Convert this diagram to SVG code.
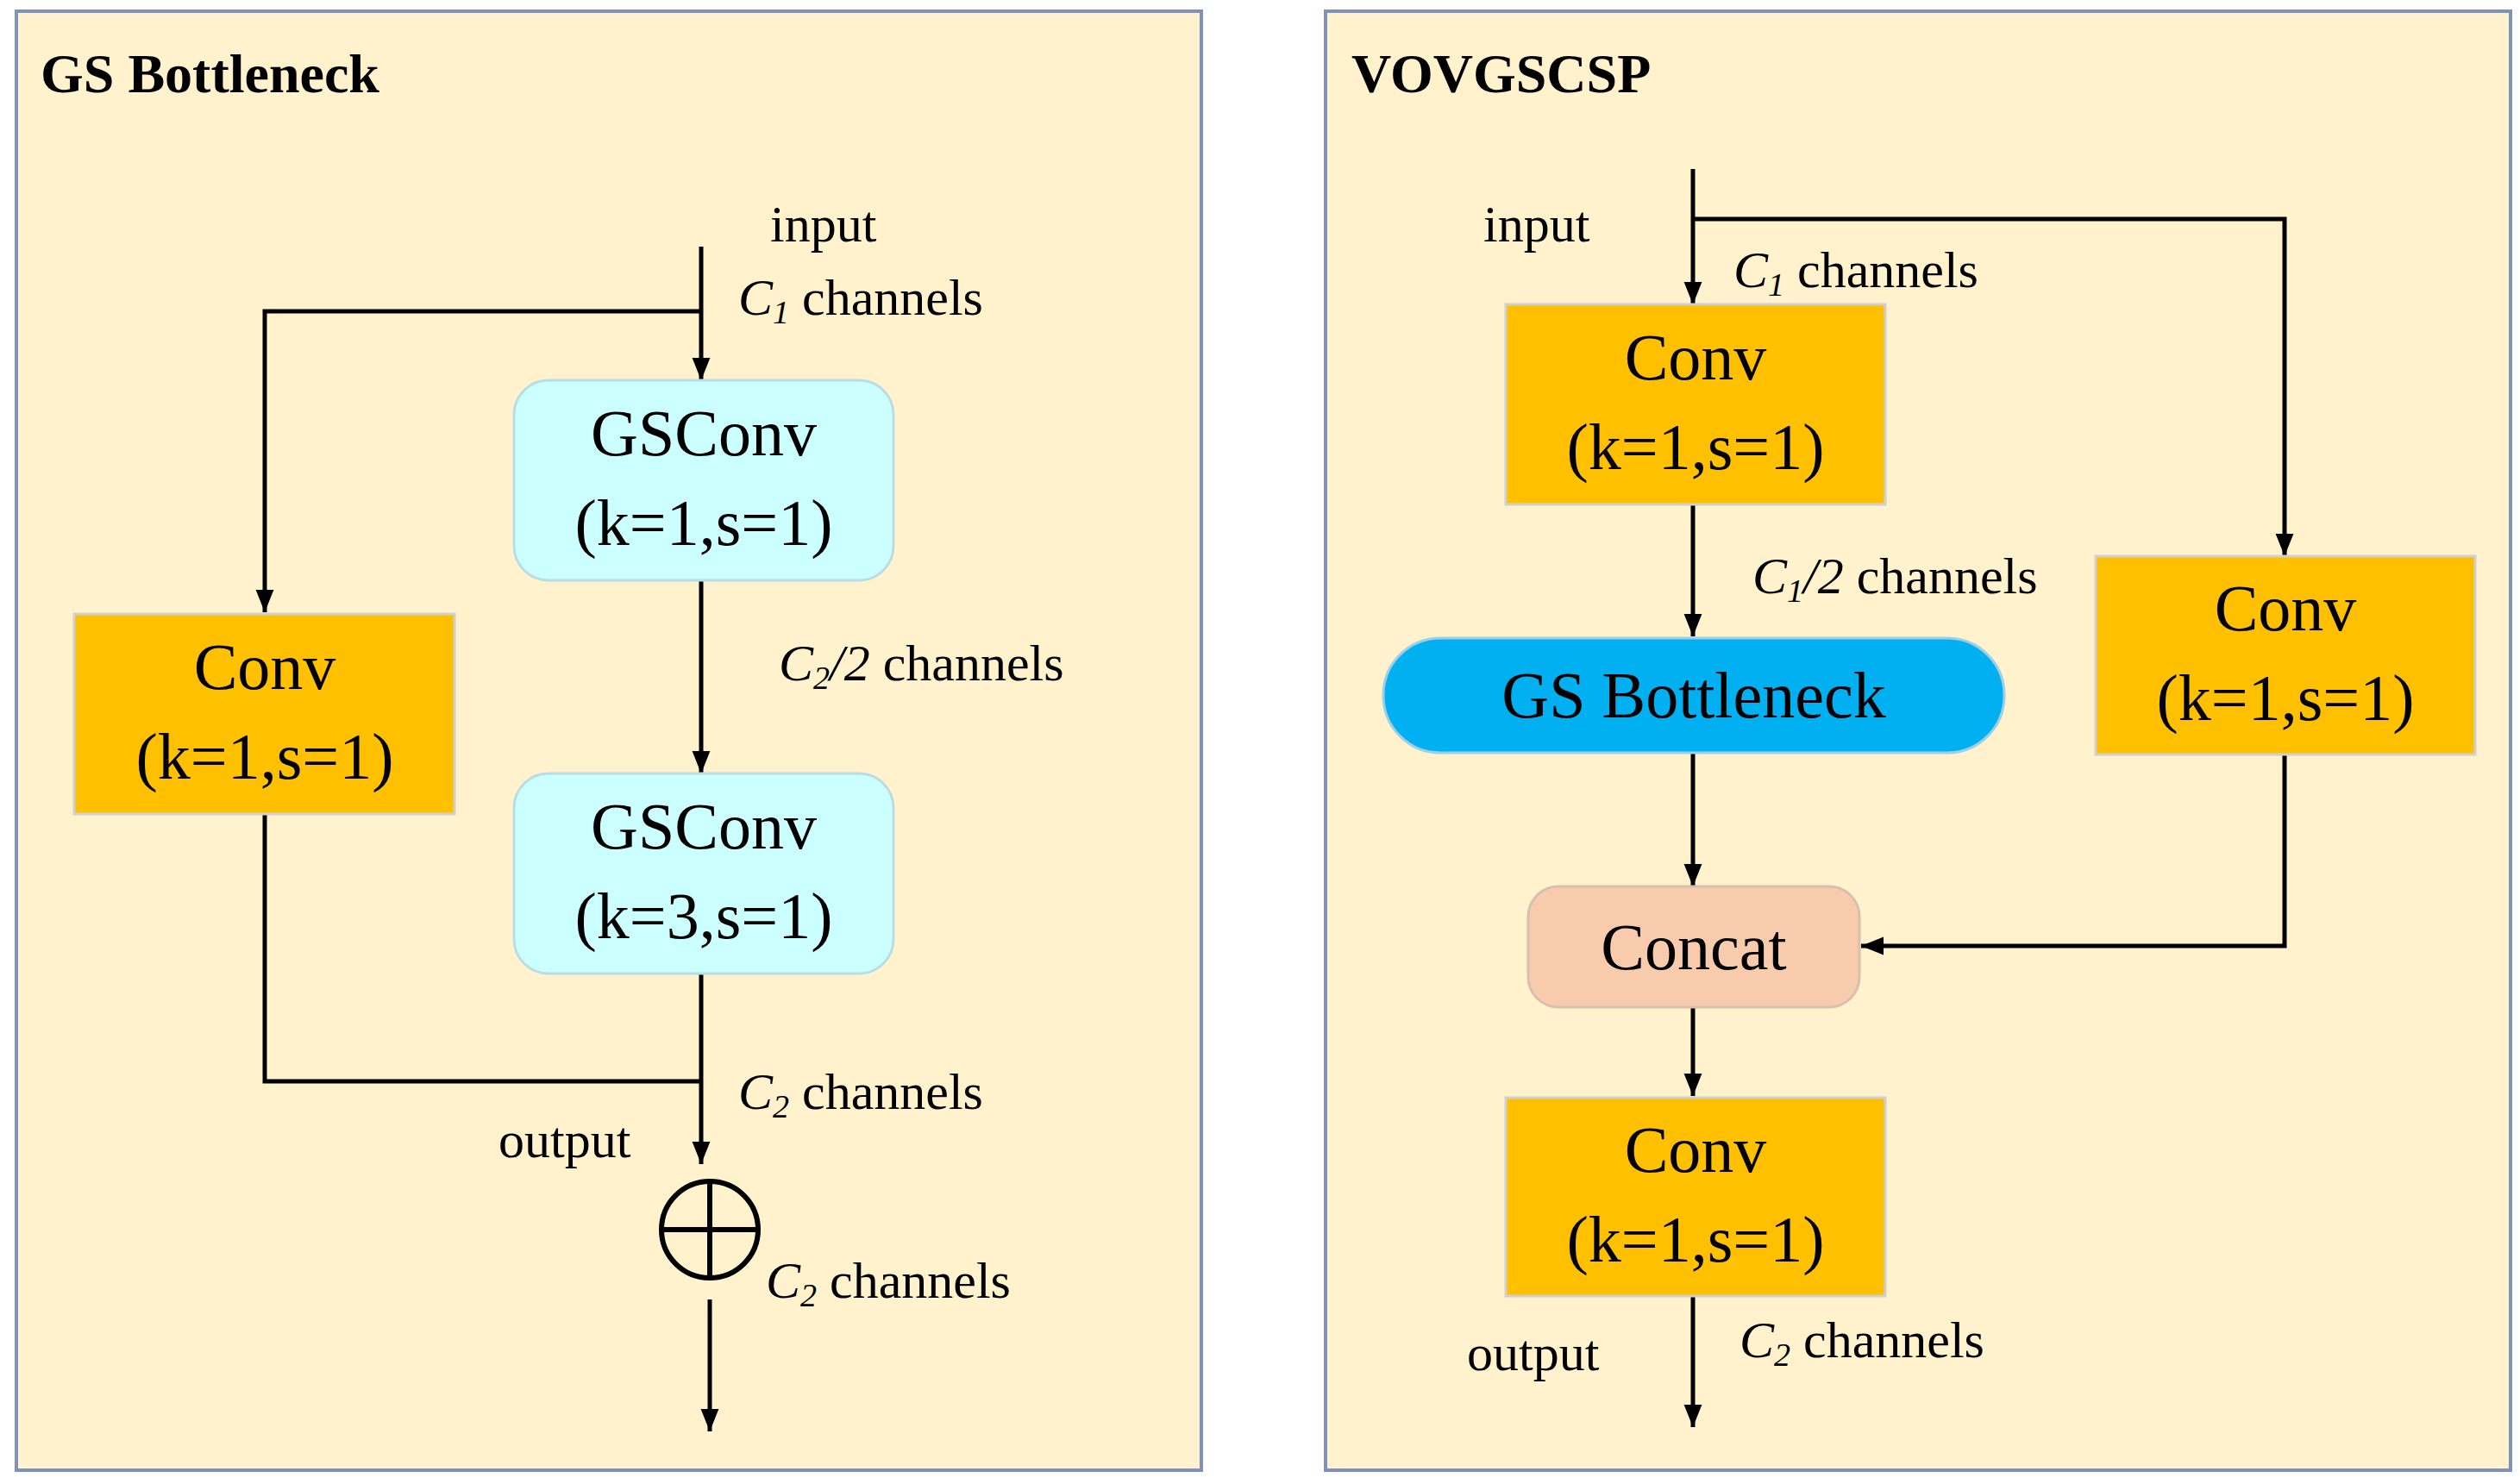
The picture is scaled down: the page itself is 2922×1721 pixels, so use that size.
<svg xmlns="http://www.w3.org/2000/svg" width="2922" height="1721" viewBox="0 0 2922 1721">
<defs>
<marker id="ah" viewBox="0 0 10 10" refX="9" refY="5" markerWidth="7" markerHeight="7" markerUnits="userSpaceOnUse" orient="auto"><path d="M0,0 L10,5 L0,10 z" fill="#000"/></marker>
<marker id="a" viewBox="0 0 10 10" refX="10" refY="5" markerWidth="26" markerHeight="26" markerUnits="userSpaceOnUse" orient="auto"><path d="M0,1 L10,5 L0,9 z" fill="#000"/></marker>
</defs>
<style>
.panel{fill:#FFF2CC;stroke:#7F92BE;stroke-width:4}
.title{font-family:"Liberation Serif",serif;font-weight:bold;font-size:64px;fill:#000}
.t{font-family:"Liberation Serif",serif;font-size:60px;fill:#000}
.b{font-family:"Liberation Serif",serif;font-size:76px;fill:#000;text-anchor:middle}
.conv{fill:#FFC000;stroke:#D0D0D0;stroke-width:3}
.gs{fill:#CCFFFF;stroke:#B8DDE6;stroke-width:3}
.pill{fill:#00B0F0;stroke:#9CCFE8;stroke-width:3}
.cat{fill:#F8CBAD;stroke:#D8C0B0;stroke-width:3}
.l{fill:none;stroke:#000;stroke-width:5}
</style>
<rect class="panel" x="19" y="13" width="1374" height="1692"/>
<rect class="panel" x="1537" y="13" width="1374" height="1692"/>
<text class="title" x="47" y="107">GS Bottleneck</text>
<text class="title" x="1567" y="107">VOVGSCSP</text>

<g id="connectors">
<path class="l" d="M813,286 V441" marker-end="url(#a)"/>
<path class="l" d="M813,361 H307 V710" marker-end="url(#a)"/>
<path class="l" d="M813,673 V897" marker-end="url(#a)"/>
<path class="l" d="M307,944 V1254 H813"/>
<path class="l" d="M813,1129 V1350" marker-end="url(#a)"/>
<path class="l" d="M823,1507 V1660" marker-end="url(#a)"/>
<path class="l" d="M1963,196 V353" marker-end="url(#a)"/>
<path class="l" d="M1963,254 H2649 V645" marker-end="url(#a)"/>
<path class="l" d="M1963,585 V738" marker-end="url(#a)"/>
<path class="l" d="M1963,873 V1028" marker-end="url(#a)"/>
<path class="l" d="M2649,875 V1097 H2158" marker-end="url(#a)"/>
<path class="l" d="M1963,1168 V1271" marker-end="url(#a)"/>
<path class="l" d="M1963,1503 V1655" marker-end="url(#a)"/>
</g>

<g id="gsconv1"><rect class="gs" x="596" y="441" width="440" height="232" rx="40"/><text class="b" x="816" y="528">GSConv</text><text class="b" x="816" y="632">(k=1,s=1)</text></g>
<g id="gsconv2"><rect class="gs" x="596" y="897" width="440" height="232" rx="40"/><text class="b" x="816" y="984">GSConv</text><text class="b" x="816" y="1088">(k=3,s=1)</text></g>
<g id="convL"><rect class="conv" x="86" y="712" width="441" height="232"/><text class="b" x="307" y="799">Conv</text><text class="b" x="307" y="903">(k=1,s=1)</text></g>
<g id="add"><circle cx="823" cy="1426" r="56" fill="none" stroke="#000" stroke-width="6"/><path d="M767,1426 H879 M823,1370 V1482" stroke="#000" stroke-width="6"/></g>

<g id="conv1"><rect class="conv" x="1746" y="353" width="440" height="232"/><text class="b" x="1966" y="440">Conv</text><text class="b" x="1966" y="544">(k=1,s=1)</text></g>
<g id="gsb"><rect class="pill" x="1604" y="740" width="720" height="133" rx="66"/><text class="b" x="1964" y="832">GS Bottleneck</text></g>
<g id="convR"><rect class="conv" x="2430" y="645" width="440" height="230"/><text class="b" x="2650" y="731">Conv</text><text class="b" x="2650" y="835">(k=1,s=1)</text></g>
<g id="concat"><rect class="cat" x="1772" y="1028" width="384" height="140" rx="35"/><text class="b" x="1964" y="1124">Concat</text></g>
<g id="conv3"><rect class="conv" x="1746" y="1273" width="440" height="230"/><text class="b" x="1966" y="1359">Conv</text><text class="b" x="1966" y="1463">(k=1,s=1)</text></g>

<g id="labels">
<text class="t" x="893" y="280">input</text>
<text class="t" x="856" y="365"><tspan font-style="italic">C</tspan><tspan font-style="italic" font-size="38" dy="10">1</tspan><tspan dy="-10"> channels</tspan></text>
<text class="t" x="903" y="789"><tspan font-style="italic">C</tspan><tspan font-style="italic" font-size="38" dy="10">2</tspan><tspan font-style="italic" dy="-10">/2</tspan><tspan> channels</tspan></text>
<text class="t" x="856" y="1286"><tspan font-style="italic">C</tspan><tspan font-style="italic" font-size="38" dy="10">2</tspan><tspan dy="-10"> channels</tspan></text>
<text class="t" x="578" y="1342">output</text>
<text class="t" x="888" y="1505"><tspan font-style="italic">C</tspan><tspan font-style="italic" font-size="38" dy="10">2</tspan><tspan dy="-10"> channels</tspan></text>
<text class="t" x="1720" y="280">input</text>
<text class="t" x="2010" y="333"><tspan font-style="italic">C</tspan><tspan font-style="italic" font-size="38" dy="10">1</tspan><tspan dy="-10"> channels</tspan></text>
<text class="t" x="2032" y="688"><tspan font-style="italic">C</tspan><tspan font-style="italic" font-size="38" dy="10">1</tspan><tspan font-style="italic" dy="-10">/2</tspan><tspan> channels</tspan></text>
<text class="t" x="2017" y="1574"><tspan font-style="italic">C</tspan><tspan font-style="italic" font-size="38" dy="10">2</tspan><tspan dy="-10"> channels</tspan></text>
<text class="t" x="1701" y="1589">output</text>
</g>
</svg>
